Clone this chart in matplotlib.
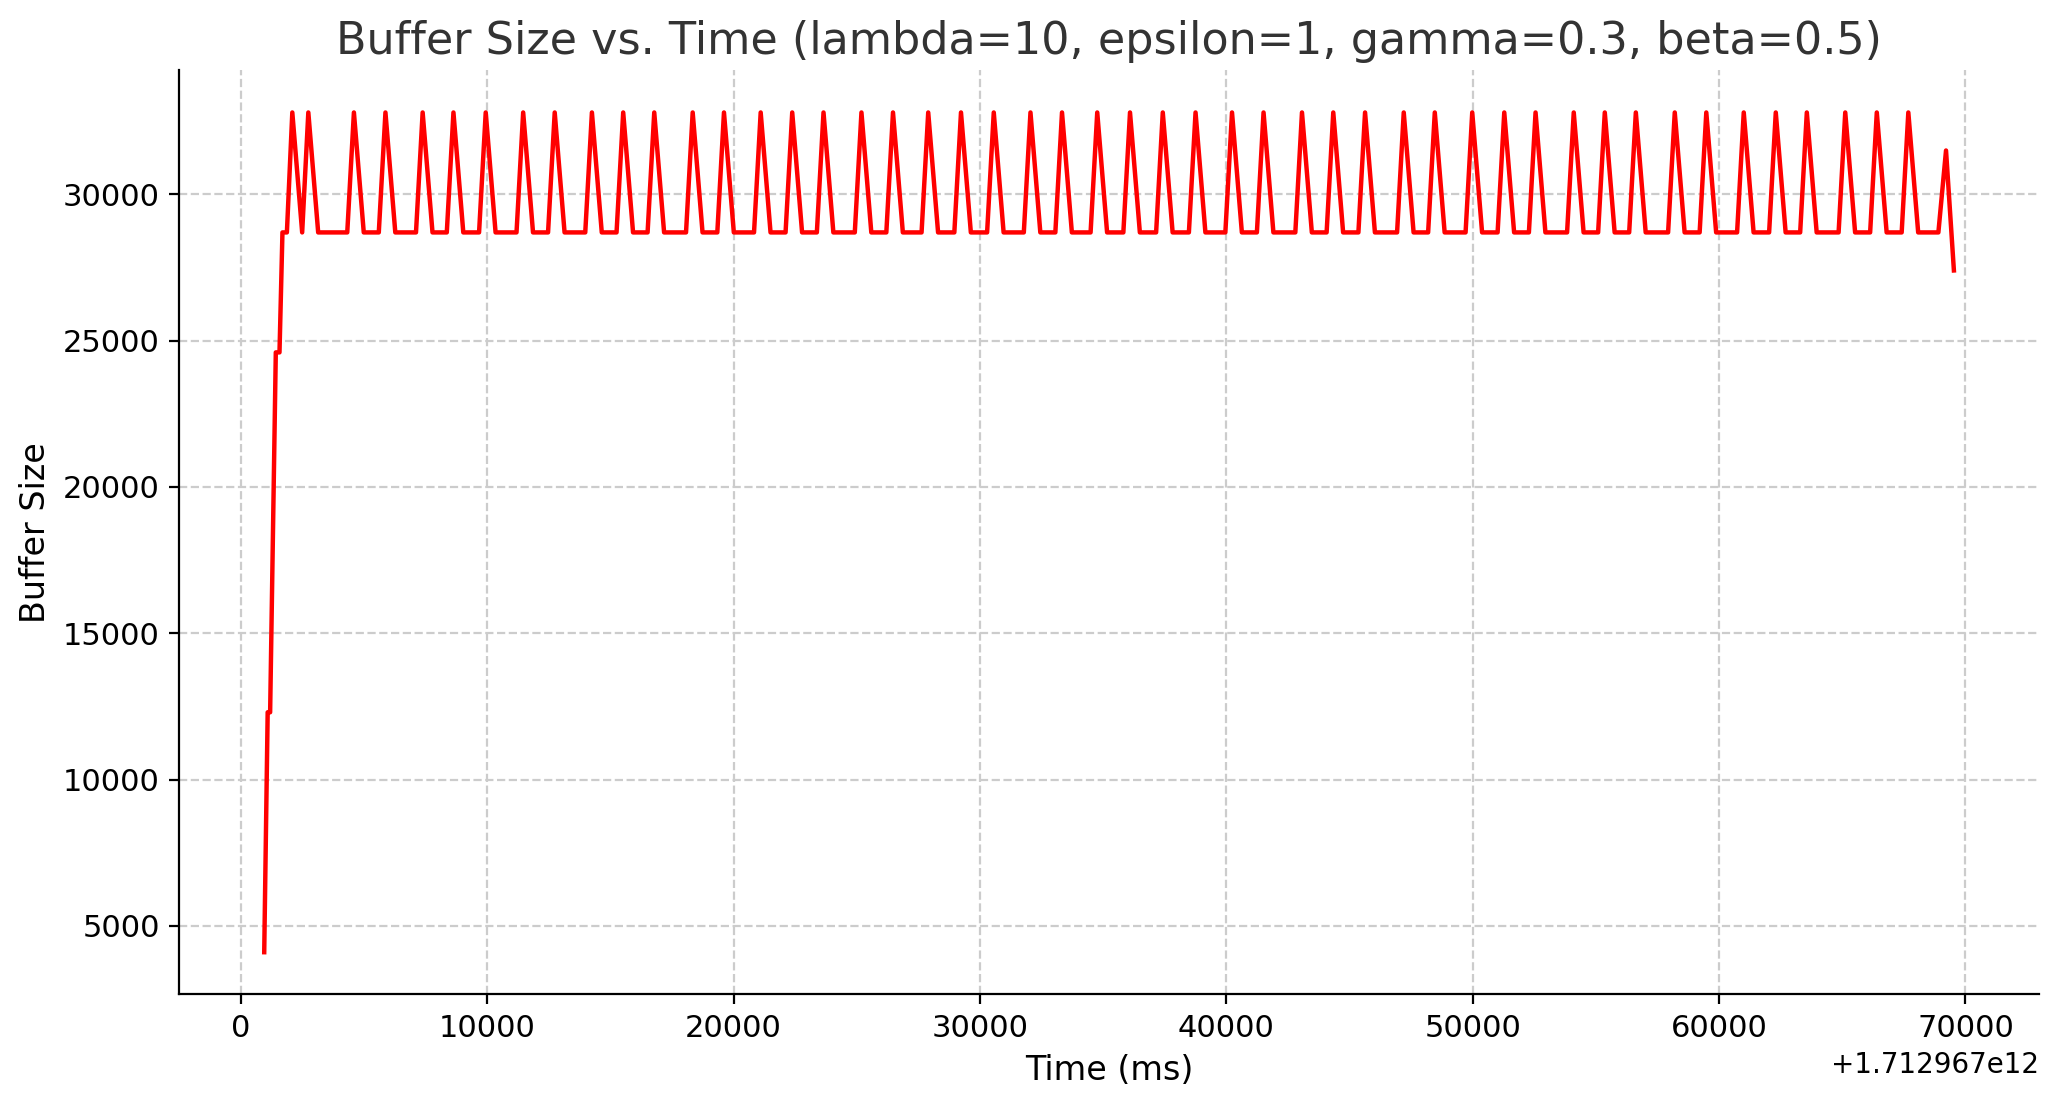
import matplotlib
matplotlib.use("Agg")
import matplotlib.pyplot as plt

OFFSET = 1.712967e12

# ramp-up at the start (time in ms relative to offset, buffer size)
ramp_t = [950, 1090, 1190, 1420, 1570, 1690, 1870]
ramp_y = [4100, 12300, 12300, 24600, 24600, 28700, 28700]

# times of the periodic peaks (ms relative to offset)
peak_times = [2090, 2740, 4590, 5870, 7380, 8630, 9940, 11460, 12740, 14250,
              15520, 16780, 18340, 19610, 21100, 22380, 23650, 25190, 26470,
              27900, 29230, 30560, 32050, 33330, 34760, 36090, 37420, 38750,
              40230, 41510, 43070, 44340, 45630, 47200, 48460, 49980, 51280,
              52550, 54100, 55360, 56620, 58200, 59480, 61000, 62300, 63560,
              65120, 66400, 67680]
PEAK = 32800
BASE = 28700
RISE_MS = 270
FALL_MS = 400

# tail at the end
tail_t = [68900, 69210, 69530]
tail_y = [28700, 31500, 27400]

t = list(ramp_t)
y = list(ramp_y)
for i, p in enumerate(peak_times):
    if i > 0 and p - RISE_MS > t[-1]:
        t.append(p - RISE_MS)
        y.append(BASE)
    t.append(p)
    y.append(PEAK)
    t.append(p + FALL_MS)
    y.append(BASE)
t += tail_t
y += tail_y

plt.rcParams["font.family"] = "DejaVu Sans"
fig, ax = plt.subplots(figsize=(10.3, 5.505), dpi=200)
ax.plot([v + OFFSET for v in t], y, color="red", linewidth=1.6)

ax.set_title("Buffer Size vs. Time (lambda=10, epsilon=1, gamma=0.3, beta=0.5)",
             fontsize=16, color="#333333")
ax.set_xlabel("Time (ms)", fontsize=12)
ax.set_ylabel("Buffer Size", fontsize=12)
ax.tick_params(labelsize=11)
ax.set_yticks([5000, 10000, 15000, 20000, 25000, 30000])
ax.set_xlim(OFFSET - 2500, OFFSET + 73000)
ax.grid(True, linestyle="--", color="#cccccc", linewidth=0.8)
ax.spines["top"].set_visible(False)
ax.spines["right"].set_visible(False)

fig.subplots_adjust(left=0.087, right=0.99, top=0.936, bottom=0.097)
fig.savefig("out.png")
